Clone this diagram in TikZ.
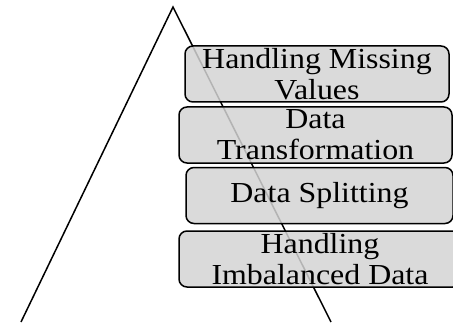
\documentclass[tikz,border=0pt]{standalone}
\usepackage{fontspec}
\setmainfont{Liberation Serif}[FakeStretch=1.1]
\definecolor{boxgray}{RGB}{211,211,211}
\begin{document}
\begin{tikzpicture}[x=1pt,y=1pt,
    stage/.style={draw, line width=1.5pt, rounded corners=8pt, fill=boxgray,
      fill opacity=0.85, text opacity=1, align=center, inner xsep=0pt,
      inner ysep=-10pt, minimum height=56, font=\fontsize{29}{31}\selectfont}]
  \useasboundingbox (0,0) rectangle (453,322);
  \clip (0,0) rectangle (453,322);

  % draw the two sides of the triangle
  \coordinate (apex) at (173,315);
  \coordinate (baseL) at (21,0);
  \coordinate (baseR) at (331,0);
  \draw[line width=1.5pt] (baseL) -- (apex) -- (baseR);

  % draw the boxes
  \node[stage, minimum width=264] (missing) at (317,248) {Handling Missing\\Values};
  \node[stage, minimum width=273] (transform) at (315.5,187) {Data\\Transformation};
  \node[stage, minimum width=267] (split) at (319.5,126.5) {Data Splitting};
  \node[stage, minimum width=282] (imbalance) at (320,63) {Handling\\Imbalanced Data};
\end{tikzpicture}
\end{document}
